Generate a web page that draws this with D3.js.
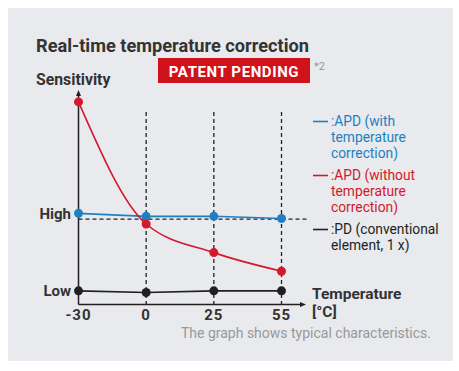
<!DOCTYPE html>
<html>
<head>
<meta charset="utf-8">
<script src="https://cdn.jsdelivr.net/npm/d3@7"></script>
<style>
  body { margin: 0; background: #fff; }
  svg { display: block; font-family: Roboto, "Noto Sans", sans-serif; }
</style>
</head>
<body>
<div id="chart"></div>
<script>
// temperature categories (°C)
const temps = ["-30", "0", "25", "55"];
// relative sensitivity, arbitrary units
const apdCorrected = [42.7, 41.3, 41.3, 40.3];
const apdUncorrected = [94.9, 37.7, 24.3, 15.6];
const pdConventional = [6.4, 5.6, 6.4, 6.4];
const yTickValues = [42.5, 6.2];
const yTickLabels = ["High", "Low"];
const refLevel = 40;
const legendLines = [
  [":APD (with", "temperature", "correction)"],
  [":APD (without", "temperature", "correction)"],
  [":PD (conventional", "element, 1 x)"]
];

const W = 459, H = 371;
const blue = "#1f7fc3", red = "#d3192b", black = "#231f20";
const colors = [blue, red, black];

const svg = d3.select("#chart").append("svg")
  .attr("width", W).attr("height", H);

svg.append("rect")
  .attr("x", 8).attr("y", 8).attr("width", 445).attr("height", 353)
  .attr("fill", "#e8eaed");

svg.append("text")
  .attr("x", 36).attr("y", 52)
  .attr("font-size", 18.2).attr("font-weight", 700).attr("fill", "#333")
  .text("Real-time temperature correction");

svg.append("rect")
  .attr("x", 158).attr("y", 58).attr("width", 152).attr("height", 25)
  .attr("fill", "#d0121b");
svg.append("text")
  .attr("x", 234).attr("y", 76.5).attr("text-anchor", "middle")
  .attr("font-size", 15).attr("font-weight", 700).attr("fill", "#fff")
  .attr("letter-spacing", 0.6)
  .text("PATENT PENDING");
svg.append("text")
  .attr("x", 314).attr("y", 70)
  .attr("font-size", 11).attr("fill", "#999")
  .text("*2");

const x = d3.scalePoint().domain(temps).range([78.5, 281.5]);
const y = d3.scaleLinear().domain([0, 100]).range([304.5, 91]);

const g = svg.append("g");

// dashed guides
g.selectAll(".vguide")
  .data(temps.slice(1))
  .enter().append("line")
  .attr("x1", d => x(d)).attr("x2", d => x(d))
  .attr("y1", 112).attr("y2", y(0))
  .attr("stroke", black).attr("stroke-width", 1.3)
  .attr("stroke-dasharray", "4,3");

g.append("line")
  .attr("x1", x("-30")).attr("x2", 307)
  .attr("y1", y(refLevel)).attr("y2", y(refLevel))
  .attr("stroke", black).attr("stroke-width", 1.3)
  .attr("stroke-dasharray", "4,3");

// axes with arrowheads
g.append("line")
  .attr("x1", x("-30")).attr("x2", x("-30"))
  .attr("y1", y(0)).attr("y2", 94)
  .attr("stroke", black).attr("stroke-width", 1.5);
g.append("path")
  .attr("d", `M${x("-30") - 2.5},${96} L${x("-30")},${90} L${x("-30") + 2.5},${96} Z`)
  .attr("fill", black);
g.append("line")
  .attr("x1", x("-30")).attr("x2", 302)
  .attr("y1", y(0)).attr("y2", y(0))
  .attr("stroke", black).attr("stroke-width", 1.5);
g.append("path")
  .attr("d", `M${300},${y(0) - 2.5} L${306},${y(0)} L${300},${y(0) + 2.5} Z`)
  .attr("fill", black);

// x tick labels
g.selectAll(".xlab")
  .data(temps)
  .enter().append("text")
  .attr("x", d => x(d)).attr("y", 319.5)
  .attr("text-anchor", "middle")
  .attr("font-size", 15).attr("font-weight", 700).attr("fill", "#333")
  .attr("letter-spacing", 1)
  .text(d => d);

// y tick labels
g.selectAll(".ylab")
  .data(yTickValues)
  .enter().append("text")
  .attr("x", 71).attr("y", d => y(d) + 5)
  .attr("text-anchor", "end")
  .attr("font-size", 15).attr("font-weight", 700).attr("fill", "#333")
  .text((d, i) => yTickLabels[i]);

svg.append("text")
  .attr("x", 36).attr("y", 85)
  .attr("font-size", 15.8).attr("font-weight", 700).attr("fill", "#333")
  .text("Sensitivity");

svg.append("text")
  .attr("x", 312).attr("y", 298.5)
  .attr("font-size", 15.5).attr("font-weight", 700).attr("fill", "#333")
  .text("Temperature");
svg.append("text")
  .attr("x", 312).attr("y", 316.5)
  .attr("font-size", 15.5).attr("font-weight", 700).attr("fill", "#333")
  .text("[°C]");

// series
const series = [apdCorrected, apdUncorrected, pdConventional];
const curves = [d3.curveLinear, d3.curveMonotoneX, d3.curveLinear];

series.forEach((vals, si) => {
  const line = d3.line()
    .x((d, i) => x(temps[i]))
    .y(d => y(d))
    .curve(curves[si]);
  g.append("path")
    .datum(vals)
    .attr("fill", "none")
    .attr("stroke", colors[si])
    .attr("stroke-width", 1.6)
    .attr("d", line);
});

series.forEach((vals, si) => {
  g.selectAll(".pt" + si)
    .data(vals)
    .enter().append("circle")
    .attr("cx", (d, i) => x(temps[i]))
    .attr("cy", d => y(d))
    .attr("r", 4.5)
    .attr("fill", colors[si]);
});

// legend
const blockTops = [126, 180, 234];
legendLines.forEach((lines, bi) => {
  const lg = svg.append("g");
  lg.append("line")
    .attr("x1", 313).attr("x2", 328)
    .attr("y1", blockTops[bi] - 4.5).attr("y2", blockTops[bi] - 4.5)
    .attr("stroke", colors[bi]).attr("stroke-width", 1.6);
  lines.forEach((t, li) => {
    lg.append("text")
      .attr("x", 331).attr("y", blockTops[bi] + li * 16)
      .attr("font-size", 13.8).attr("fill", colors[bi])
      .text(t);
  });
});

svg.append("text")
  .attr("x", 431).attr("y", 338)
  .attr("text-anchor", "end")
  .attr("font-size", 14).attr("fill", "#999")
  .text("The graph shows typical characteristics.");
</script>
</body>
</html>
